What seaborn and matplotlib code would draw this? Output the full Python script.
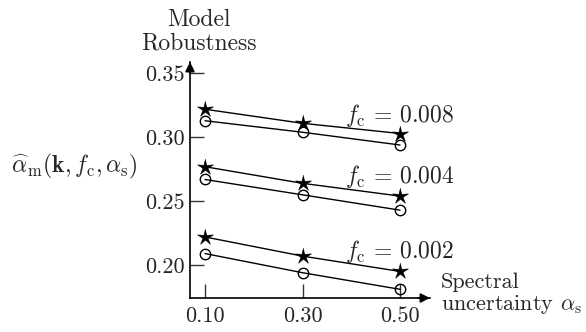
import matplotlib
matplotlib.use("Agg")
import matplotlib.pyplot as plt
import seaborn as sns
import pandas as pd
import numpy as np

# ---- data ----
alpha_s = [0.10, 0.30, 0.50]
fc_values = ["0.008", "0.004", "0.002"]
star_008 = [0.322, 0.311, 0.303]
circ_008 = [0.313, 0.304, 0.294]
star_004 = [0.277, 0.264, 0.254]
circ_004 = [0.267, 0.255, 0.243]
star_002 = [0.222, 0.207, 0.195]
circ_002 = [0.209, 0.194, 0.181]
xtick_labels = ["0.10", "0.30", "0.50"]
yticks = [0.20, 0.25, 0.30, 0.35]
ytick_labels = ["0.20", "0.25", "0.30", "0.35"]

rows = []
for fc, s, c in zip(fc_values, [star_008, star_004, star_002], [circ_008, circ_004, circ_002]):
    for a, v in zip(alpha_s, s):
        rows.append(dict(alpha=a, rob=v, fc=fc, kind="star"))
    for a, v in zip(alpha_s, c):
        rows.append(dict(alpha=a, rob=v, fc=fc, kind="circle"))
df = pd.DataFrame(rows)

sns.set_style("ticks")
plt.rcParams["font.family"] = ["cmr10", "DejaVu Serif"]
plt.rcParams["mathtext.fontset"] = "cm"
plt.rcParams["axes.unicode_minus"] = False

# thin five-pointed star marker shape
ang = np.pi / 2 + np.arange(10) * np.pi / 5
rad = np.where(np.arange(10) % 2 == 0, 1.0, 0.32)
star_marker = list(zip(rad * np.cos(ang), rad * np.sin(ang)))

W, H = 586, 332
fig = plt.figure(figsize=(W / 100, H / 100), dpi=100)
ax = fig.add_axes([190 / W, 1 - 298 / H, (430 - 190) / W, (298 - 62) / H])

stars = df[df.kind == "star"]
circs = df[df.kind == "circle"]
sns.lineplot(data=stars, x="alpha", y="rob", units="fc", estimator=None, color="black",
             lw=1.0, marker=star_marker, markersize=12, markerfacecolor="black",
             markeredgecolor="black", markeredgewidth=0.4, ax=ax, legend=False)
sns.lineplot(data=circs, x="alpha", y="rob", units="fc", estimator=None, color="black",
             lw=1.0, marker="o", markersize=7.5, markerfacecolor="none",
             markeredgecolor="black", markeredgewidth=1.0, ax=ax, legend=False)

ax.set_xlim(0.0692, 0.5615)
ax.set_ylim(0.1742, 0.359)
ax.set_xticks(alpha_s)
ax.set_xticklabels(xtick_labels, fontsize=16)
ax.set_yticks(yticks)
ax.set_yticklabels(ytick_labels, fontsize=16)
ax.tick_params(axis="both", direction="in", length=10, width=1.0, color="#333333")
ax.tick_params(axis="x", pad=6)
ax.tick_params(axis="y", pad=4)
ax.set_xlabel("")
ax.set_ylabel("")
for sp in ["top", "right"]:
    ax.spines[sp].set_visible(False)
for sp in ["left", "bottom"]:
    ax.spines[sp].set_linewidth(1.2)
    ax.spines[sp].set_color("black")
ax.set_facecolor("none")

# arrowheads
ax.annotate("", xy=(1.0, 0), xytext=(0.95, 0), xycoords="axes fraction",
            arrowprops=dict(arrowstyle="-|>", color="black", lw=1.2,
                            mutation_scale=14, shrinkA=0, shrinkB=0))
ax.annotate("", xy=(0, 1.0), xytext=(0, 0.95), xycoords="axes fraction",
            arrowprops=dict(arrowstyle="-|>", color="black", lw=1.2,
                            mutation_scale=14, shrinkA=0, shrinkB=0))

def ftext(x, y, s, **kw):
    fig.text(x / W, 1 - y / H, s, **kw)

fs = 17
ftext(199, 26, "Model", ha="center", va="baseline", fontsize=fs)
ftext(199, 50, "Robustness", ha="center", va="baseline", fontsize=fs)
ftext(11, 172, r"$\widehat{\alpha}_{\rm m}(\mathbf{k}, f_{\rm c}, \alpha_{\rm s})$",
      ha="left", va="baseline", fontsize=fs)
ftext(441, 288, "Spectral", ha="left", va="baseline", fontsize=16)
ftext(441, 310, r"uncertainty $\alpha_{\rm s}$", ha="left", va="baseline", fontsize=16)
for fc, yb in zip(fc_values, [122, 183, 258]):
    ftext(345, yb, r"$f_{\rm c}$ = " + fc, ha="left", va="baseline", fontsize=fs)

fig.savefig("out.png", dpi=100)
